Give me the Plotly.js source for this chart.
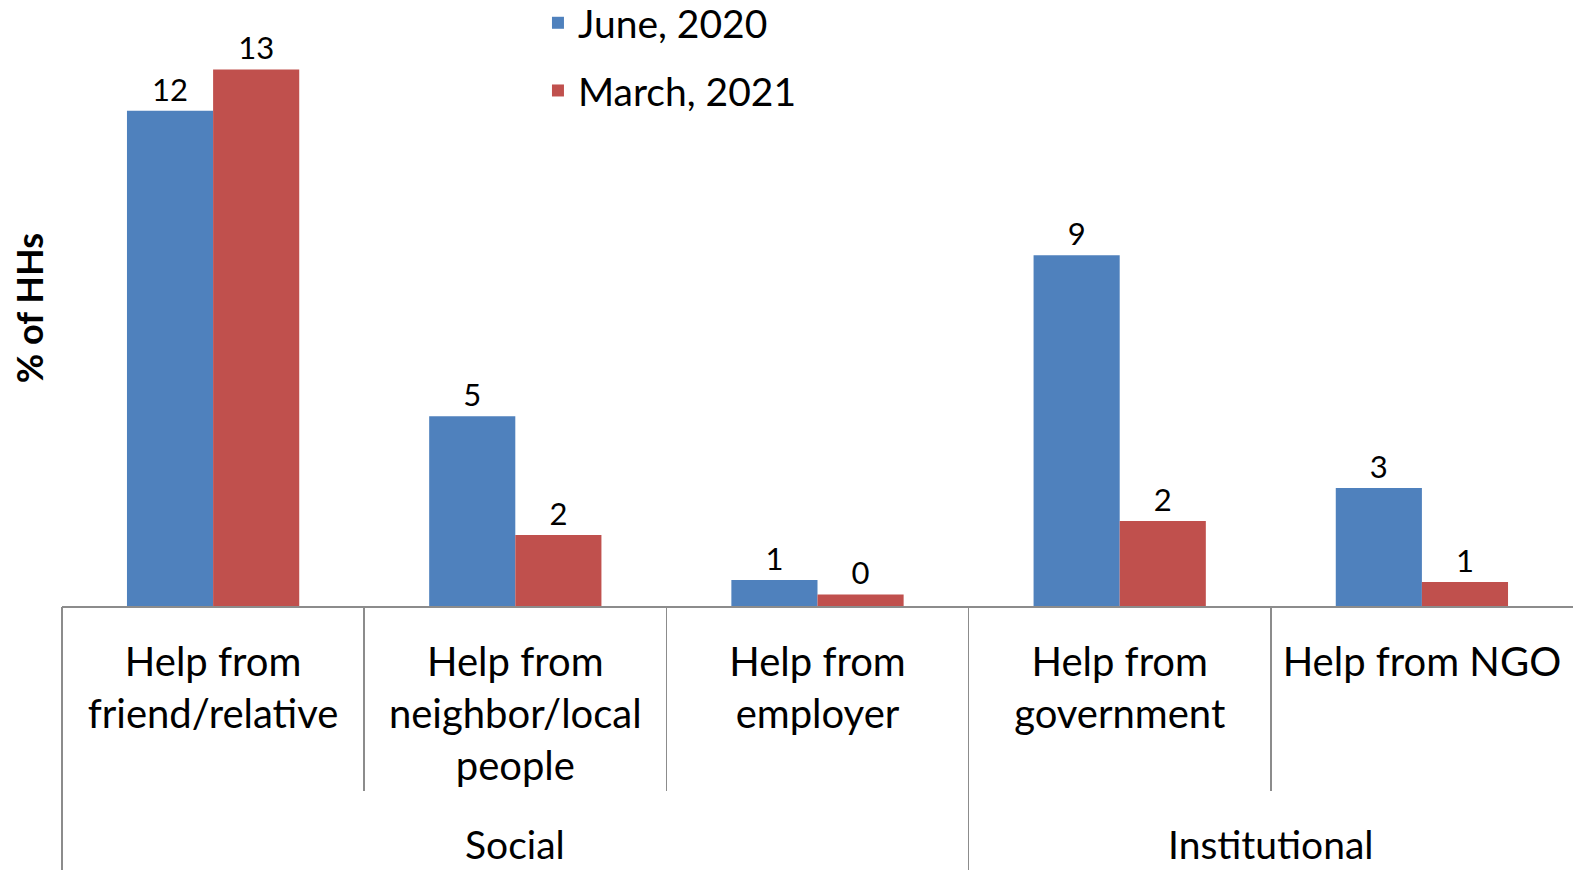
<!DOCTYPE html>
<html>
<head>
<meta charset="utf-8">
<script src="https://cdn.plot.ly/plotly-3.0.1.min.js"></script>
<style>html,body{margin:0;padding:0;background:#fff;}#chart{width:1573px;height:870px;}</style>
</head>
<body>
<div id="chart"></div>
<script>
// ---- data ----
var categories = [
  'Help from<br>friend/relative',
  'Help from<br>neighbor/local<br>people',
  'Help from<br>employer',
  'Help from<br>government',
  'Help from NGO'
];
var groups = ['Social', 'Social', 'Social', 'Institutional', 'Institutional'];
var seriesNames = ['June, 2020', 'March, 2021'];
var june2020 = [12.0, 4.6, 0.63, 8.5, 2.86];
var march2021 = [13.0, 1.72, 0.28, 2.06, 0.58];
var seriesColors = ['#4F81BD', '#C0504D'];

// ---- derived axis structure ----
var innerBounds = [], outerBounds = [-0.5];
for (var i = 1; i < groups.length; i++) {
  if (groups[i] === groups[i - 1]) innerBounds.push(i - 0.5); else outerBounds.push(i - 0.5);
}
var groupNames = [], groupMembers = [];
groups.forEach(function (g, i) {
  var k = groupNames.indexOf(g);
  if (k < 0) { groupNames.push(g); groupMembers.push([i]); } else groupMembers[k].push(i);
});
var groupCenters = groupMembers.map(function (a) { return a.reduce(function (s, v) { return s + v; }, 0) / a.length; });

var FONT = 'Lato, "Open Sans", sans-serif';
var xr = [-0.5, categories.length - 0.5];

var traces = [june2020, march2021].map(function (vals, k) {
  return {
    type: 'bar', name: seriesNames[k], x: categories, y: vals,
    marker: { color: seriesColors[k] },
    texttemplate: '%{y:.0f}', textposition: 'outside', cliponaxis: false,
    textfont: { family: FONT, size: 31, color: '#000' },
    legendgroup: 'g' + k, hoverinfo: 'x+y'
  };
});
// empty helper traces so that the divider axes (x2, x3) are drawn
['x2', 'x3'].forEach(function (ax) {
  traces.push({ type: 'scatter', mode: 'markers', x: [], y: [], xaxis: ax, yaxis: 'y',
    showlegend: false, hoverinfo: 'skip' });
});

var annotations = groupNames.map(function (g, k) {
  return {
    text: g, x: groupCenters[k], xref: 'x', y: 0, yref: 'paper', yshift: -238,
    yanchor: 'middle', xanchor: 'center', showarrow: false,
    font: { family: FONT, size: 39, color: '#000' }
  };
});

var layout = {
  width: 1573, height: 870,
  margin: { l: 62, r: 0, t: 10, b: 264, autoexpand: false },
  paper_bgcolor: '#fff', plot_bgcolor: '#fff',
  barmode: 'group', bargap: 0.43, bargroupgap: 0,
  font: { family: FONT, color: '#000' },
  showlegend: true,
  legend: {
    x: 0.315, y: 1.032, xanchor: 'left', yanchor: 'top',
    font: { family: FONT, size: 39, color: '#000' },
    tracegroupgap: 14, bgcolor: 'rgba(0,0,0,0)'
  },
  xaxis: {
    type: 'category', range: xr, showgrid: false, zeroline: false,
    showline: true, linecolor: '#8c8c8c', linewidth: 2,
    ticks: '', tickfont: { family: FONT, size: 40, color: '#000' },
    ticklabelstandoff: 20, automargin: false
  },
  xaxis2: {
    overlaying: 'x', type: 'linear', range: xr, anchor: 'y', side: 'bottom',
    tickmode: 'array', tickvals: innerBounds, ticks: 'outside', ticklen: 184,
    tickcolor: '#8c8c8c', tickwidth: 1.5, showticklabels: false,
    showgrid: false, zeroline: false, showline: false, automargin: false
  },
  xaxis3: {
    overlaying: 'x', type: 'linear', range: xr, anchor: 'y', side: 'bottom',
    tickmode: 'array', tickvals: outerBounds, ticks: 'outside', ticklen: 264,
    tickcolor: '#8c8c8c', tickwidth: 1.5, showticklabels: false,
    showgrid: false, zeroline: false, showline: false, automargin: false
  },
  yaxis: {
    range: [0, 14.44], showgrid: false, zeroline: false, showline: false,
    showticklabels: false, ticks: '', automargin: false,
    title: { text: '% of HHs', font: { family: FONT, size: 36, color: '#000', weight: 'bold' }, standoff: 6 }
  },
  annotations: annotations
};

Plotly.newPlot('chart', traces, layout, { displayModeBar: false, staticPlot: true });
</script>
</body>
</html>
